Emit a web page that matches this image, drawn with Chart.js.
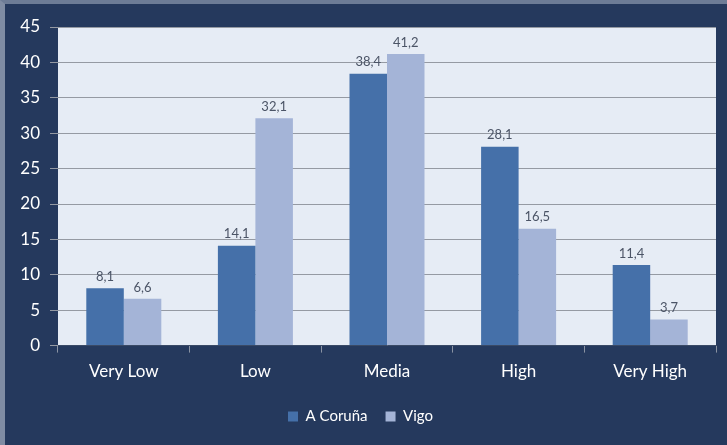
<!DOCTYPE html>
<html>
<head>
<meta charset="utf-8">
<script src="https://cdn.jsdelivr.net/npm/chart.js@4"></script>
<style>
  html, body { margin: 0; padding: 0; background: #25395d; }
  #wrap {
    position: relative; width: 727px; height: 445px; box-sizing: border-box;
    background: #25395d;
    border-left: 5px solid #7f8ca3; border-top: 4px solid #6d7c96;
  }
  canvas { display: block; }
</style>
</head>
<body>
<div id="wrap"><canvas id="c" width="722" height="441"></canvas></div>
<script>
const categories = ['Very Low', 'Low', 'Media', 'High', 'Very High'];
const coruna = [8.1, 14.1, 38.4, 28.1, 11.4];
const vigo = [6.6, 32.1, 41.2, 16.5, 3.7];
const seriesNames = ['A Coruña', 'Vigo'];

const fmt = v => v.toFixed(1).replace('.', ',');

// light panel behind the bars
const plotBg = {
  id: 'plotBg',
  beforeDraw(chart) {
    const a = chart.chartArea, ctx = chart.ctx;
    ctx.save();
    ctx.fillStyle = '#e6ecf5';
    ctx.fillRect(a.left, a.top, a.right - a.left, a.bottom - a.top);
    ctx.restore();
  }
};

// value labels above each bar, decimal comma
const valueLabels = {
  id: 'valueLabels',
  afterDatasetsDraw(chart) {
    const ctx = chart.ctx;
    ctx.save();
    ctx.font = '13px Lato, "Open Sans", sans-serif';
    ctx.fillStyle = '#4b5466';
    ctx.textAlign = 'center';
    ctx.textBaseline = 'bottom';
    chart.data.datasets.forEach((ds, i) => {
      chart.getDatasetMeta(i).data.forEach((bar, j) => {
        ctx.fillText(fmt(ds.data[j]), bar.x, bar.y - 5);
      });
    });
    ctx.restore();
  }
};

new Chart(document.getElementById('c'), {
  type: 'bar',
  data: {
    labels: categories,
    datasets: [
      { label: seriesNames[0], data: coruna, backgroundColor: '#4570a9' },
      { label: seriesNames[1], data: vigo, backgroundColor: '#a4b4d7' }
    ]
  },
  options: {
    responsive: false,
    animation: false,
    layout: { padding: { left: 0, right: 11, top: 23, bottom: 11 } },
    datasets: { bar: { categoryPercentage: 0.57, barPercentage: 1.0 } },
    scales: {
      x: {
        grid: { offset: true, drawOnChartArea: false, color: '#8a93a3', tickLength: 7 },
        border: { display: true, color: '#3a4a66', width: 1 },
        ticks: { color: '#ffffff', font: { family: 'Lato, "Open Sans", sans-serif', size: 17 }, padding: 9 }
      },
      y: {
        min: 0, max: 45,
        afterFit(s) { s.width = 53; },
        grid: { color: '#959aa3', tickLength: 8 },
        border: { display: false },
        ticks: { stepSize: 5, color: '#ffffff', font: { family: 'Lato, "Open Sans", sans-serif', size: 17 }, padding: 10 }
      }
    },
    plugins: {
      legend: {
        position: 'bottom',
        labels: {
          color: '#ffffff', boxWidth: 10, boxHeight: 10, padding: 18,
          font: { family: 'Lato, "Open Sans", sans-serif', size: 15 }
        }
      },
      tooltip: { enabled: false }
    }
  },
  plugins: [plotBg, valueLabels]
});
</script>
</body>
</html>
